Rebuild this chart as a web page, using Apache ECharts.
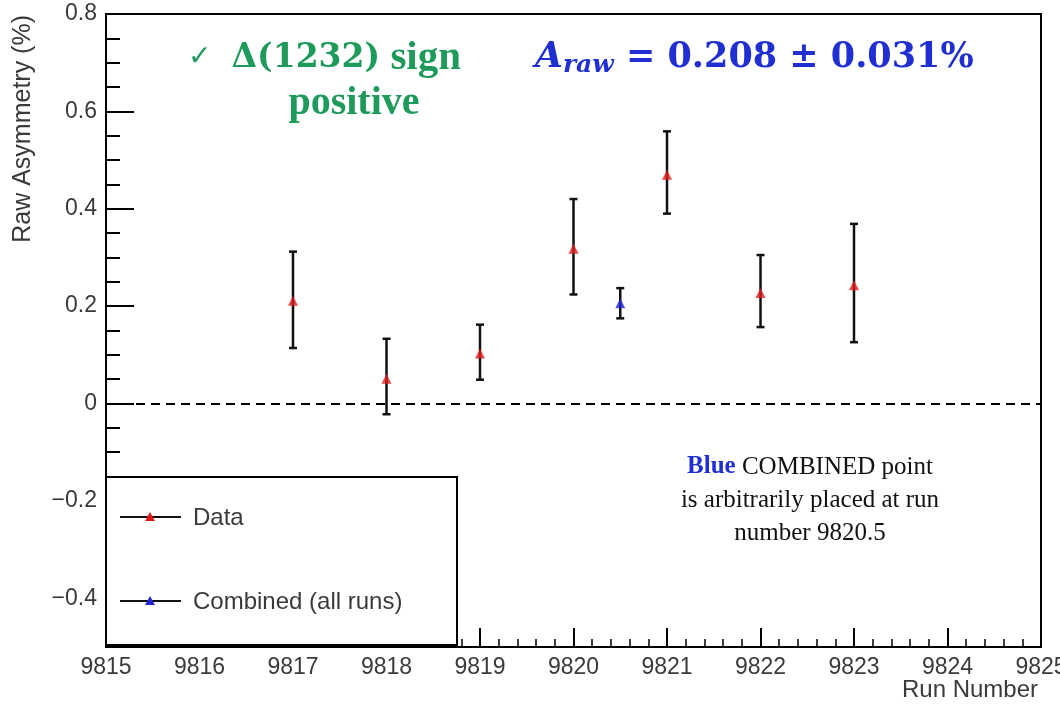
<!DOCTYPE html>
<html>
<head>
<meta charset="utf-8">
<script src="https://cdn.jsdelivr.net/npm/echarts@6/dist/echarts.min.js"></script>
<style>
html,body{margin:0;padding:0;background:#fff;}
#chart{width:1060px;height:709px;}
</style>
</head>
<body>
<div id="chart"></div>
<script>
// ---- data ----
const runs = [9817, 9818, 9819, 9820, 9821, 9822, 9823];
const asym = [0.211, 0.051, 0.103, 0.318, 0.470, 0.227, 0.243];
const errLow = [0.097, 0.073, 0.054, 0.094, 0.080, 0.070, 0.117];
const errHigh = [0.101, 0.082, 0.059, 0.102, 0.089, 0.078, 0.126];
const combinedRun = [9820.5];
const combinedAsym = [0.206];
const combinedErr = [0.031];
const yMajorTicks = [-0.4, -0.2, 0, 0.2, 0.4, 0.6, 0.8];
const xMin = 9815, xMax = 9825;
const yMin = -0.5, yMax = 0.8;

const FONT = '"Liberation Sans", Arial, sans-serif';
const SERIF = '"Liberation Serif", "Times New Roman", serif';

const dataPts = runs.map((r, i) => [r, asym[i]]);
const dataErr = runs.map((r, i) => [r, asym[i] - errLow[i], asym[i] + errHigh[i]]);
const combPts = combinedRun.map((r, i) => [r, combinedAsym[i]]);
const combErr = combinedRun.map((r, i) => [r, combinedAsym[i] - combinedErr[i], combinedAsym[i] + combinedErr[i]]);

function errRender(params, api) {
  const x = api.value(0);
  const lo = api.coord([x, api.value(1)]);
  const hi = api.coord([x, api.value(2)]);
  const cw = 4;
  return {
    type: 'group',
    children: [
      {type: 'line', shape: {x1: lo[0], y1: lo[1], x2: hi[0], y2: hi[1]}, style: {stroke: '#111', lineWidth: 2.5}},
      {type: 'line', shape: {x1: lo[0] - cw, y1: lo[1], x2: lo[0] + cw, y2: lo[1]}, style: {stroke: '#111', lineWidth: 2.5}},
      {type: 'line', shape: {x1: hi[0] - cw, y1: hi[1], x2: hi[0] + cw, y2: hi[1]}, style: {stroke: '#111', lineWidth: 2.5}}
    ]
  };
}

const fmt = v => {
  const r = Math.round(v * 100) / 100;
  return (Math.abs(r) < 1e-9 ? '0' : String(r)).replace('-', '\u2212');
};

const chart = echarts.init(document.getElementById('chart'), null, {renderer: 'canvas'});
const option = {
  animation: false,
  backgroundColor: '#fff',
  grid: {left: 106, right: 19, top: 14, bottom: 62, containLabel: false, outerBoundsMode: 'none',
         show: true, borderColor: '#000', borderWidth: 2, backgroundColor: 'transparent'},
  xAxis: {
    type: 'value', min: xMin, max: xMax, interval: 1,
    axisLine: {onZero: false, lineStyle: {color: '#000', width: 2}},
    axisTick: {inside: true, length: 19, lineStyle: {color: '#000', width: 2}},
    minorTick: {show: true, splitNumber: 5, length: 8, lineStyle: {color: '#000', width: 1.5}},
    splitLine: {show: false},
    axisLabel: {color: '#3a3a3a', fontSize: 23, fontFamily: FONT, margin: 9, formatter: v => String(v)}
  },
  yAxis: [
    {
      type: 'value', min: yMin, max: yMax, interval: 0.1,
      axisLine: {show: true, onZero: false, lineStyle: {color: '#000', width: 2}},
      axisTick: {inside: true, length: 28, customValues: yMajorTicks, lineStyle: {color: '#000', width: 2}},
      splitLine: {show: false},
      axisLabel: {customValues: yMajorTicks, color: '#3a3a3a', fontSize: 23, fontFamily: FONT, margin: 9, formatter: fmt}
    },
    {
      type: 'value', min: yMin, max: yMax, interval: 0.05, position: 'left',
      axisLine: {show: false, onZero: false},
      axisTick: {inside: true, length: 14, lineStyle: {color: '#000', width: 2}},
      splitLine: {show: false},
      axisLabel: {show: false}
    }
  ],
  series: [
    {
      type: 'custom', name: 'DataErr', renderItem: errRender, data: dataErr, z: 3,
      markLine: {
        silent: true, symbol: 'none', label: {show: false},
        lineStyle: {color: '#000', type: [9, 6], width: 1.8},
        data: [{yAxis: 0}]
      }
    },
    {type: 'custom', name: 'CombErr', renderItem: errRender, data: combErr, z: 3},
    {type: 'scatter', name: 'Data', data: dataPts, symbol: 'triangle', symbolSize: 10, itemStyle: {color: '#e01a1a'}, z: 5},
    {type: 'scatter', name: 'Combined (all runs)', data: combPts, symbol: 'triangle', symbolSize: 10, itemStyle: {color: '#2525d8'}, z: 5}
  ],
  graphic: [
    // axis titles
    {type: 'text', x: 23, y: 15, rotation: Math.PI / 2, style: {text: 'Raw Asymmetry (%)', fill: '#3a3a3a', font: '25px ' + FONT, textAlign: 'right', textVerticalAlign: 'middle'}},
    {type: 'text', x: 1038, y: 690, style: {text: 'Run Number', fill: '#3a3a3a', font: '24px ' + FONT, textAlign: 'right', textVerticalAlign: 'middle'}},
    // legend box
    {type: 'rect', z: 10, shape: {x: 106, y: 477, width: 351, height: 168}, style: {fill: '#fff', stroke: '#000', lineWidth: 2}},
    {type: 'line', z: 11, shape: {x1: 120, y1: 517, x2: 181, y2: 517}, style: {stroke: '#111', lineWidth: 2}},
    {type: 'polygon', z: 12, shape: {points: [[150, 512], [155, 521], [145, 521]]}, style: {fill: '#e01a1a'}},
    {type: 'text', z: 12, x: 193, y: 518, style: {text: 'Data', fill: '#3a3a3a', font: '24px ' + FONT, textVerticalAlign: 'middle'}},
    {type: 'line', z: 11, shape: {x1: 120, y1: 601, x2: 181, y2: 601}, style: {stroke: '#111', lineWidth: 2}},
    {type: 'polygon', z: 12, shape: {points: [[150, 596], [155, 605], [145, 605]]}, style: {fill: '#2525d8'}},
    {type: 'text', z: 12, x: 193, y: 602, style: {text: 'Combined (all runs)', fill: '#3a3a3a', font: '24px ' + FONT, textVerticalAlign: 'middle'}},
    // green annotation
    {type: 'text', z: 12, x: 188, y: 58, style: {
      rich: {
        ck: {fill: '#1e9a5a', font: 'bold 28px "DejaVu Sans"', padding: [0, 20, 0, 0]},
        d: {fill: '#1e9a5a', font: 'bold 33px "DejaVu Serif"'},
        w: {fill: '#1e9a5a', font: 'bold 41px ' + SERIF}
      },
      text: '{ck|\u2713}{d|\u0394(1232)}{w| sign}', textVerticalAlign: 'middle'}},
    {type: 'text', z: 12, x: 354, y: 104, style: {text: 'positive', fill: '#1e9a5a', font: 'bold 40px ' + SERIF, textAlign: 'center', textVerticalAlign: 'middle'}},
    // blue annotation
    {type: 'text', z: 12, x: 535, y: 58, style: {
      rich: {
        a: {fill: '#1f2fd2', font: 'italic bold 36px "DejaVu Serif"'},
        s: {fill: '#1f2fd2', font: 'italic bold 25px "DejaVu Serif"', padding: [14, 0, 0, 0]},
        t: {fill: '#1f2fd2', font: 'bold 35px "DejaVu Serif"'}
      },
      text: '{a|A}{s|raw}{t| = 0.208 \u00b1 0.031%}', textVerticalAlign: 'middle'}},
    // note
    {type: 'text', z: 12, x: 810, y: 500, style: {
      rich: {
        b: {fill: '#1f2fd2', font: 'bold 25px ' + SERIF, lineHeight: 33},
        n: {fill: '#111', font: '25px ' + SERIF, lineHeight: 33}
      },
      text: '{b|Blue}{n| COMBINED point}\n{n|is arbitrarily placed at run}\n{n|number 9820.5}', textAlign: 'center', textVerticalAlign: 'middle'}}
  ]
};
chart.setOption(option);
</script>
</body>
</html>
